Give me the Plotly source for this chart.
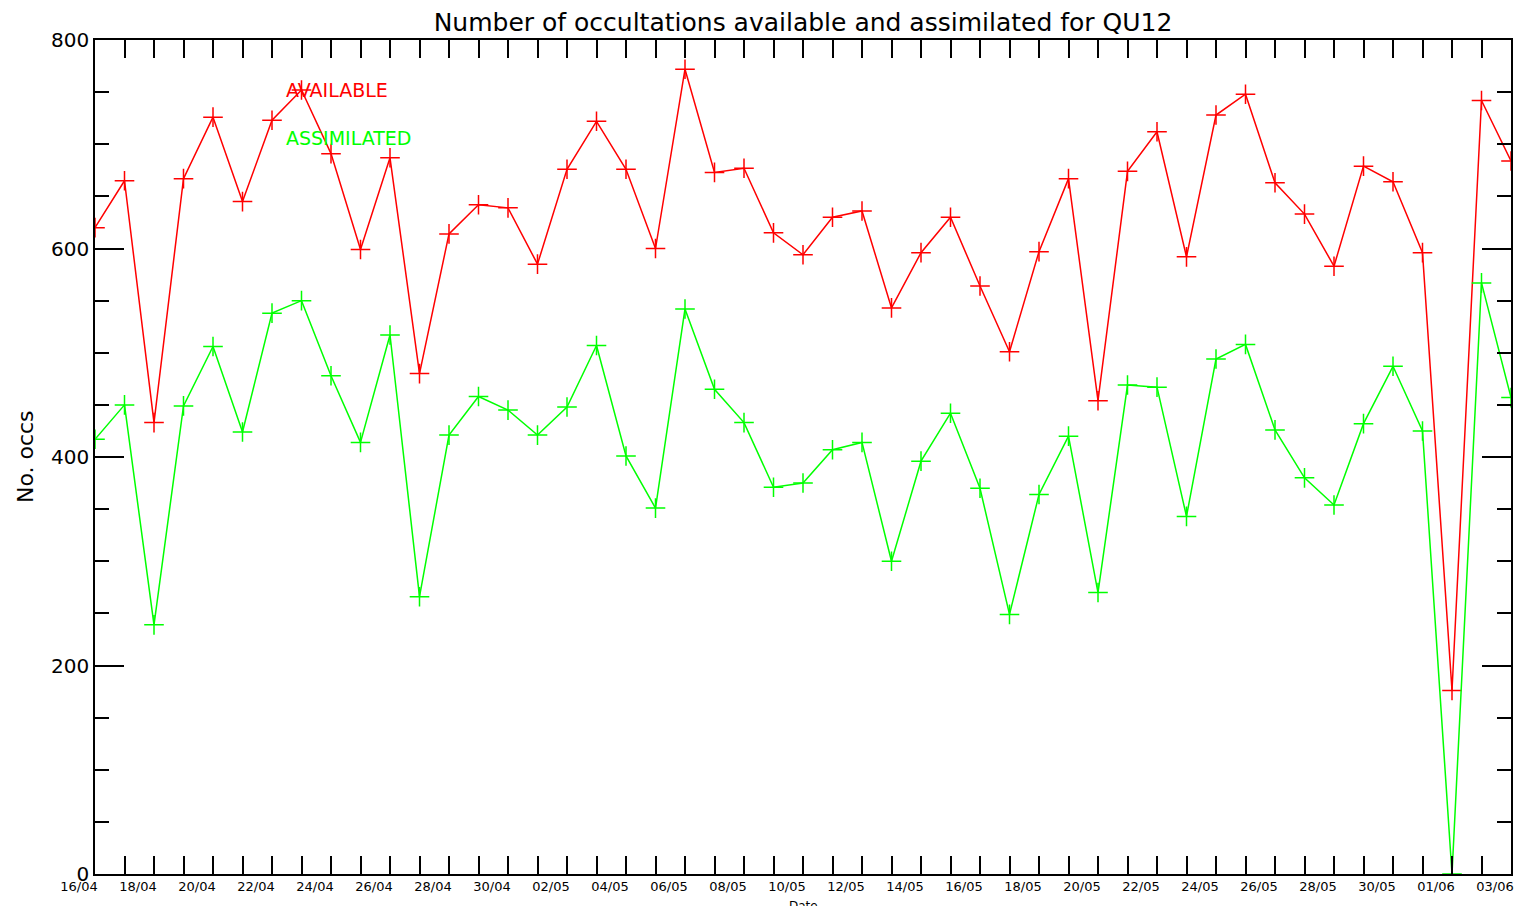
import pandas as pd
import plotly.graph_objects as go

# ---- data ----
dates = [d.strftime("%d/%m") for d in pd.date_range("2008-04-16", "2008-06-03", freq="D")]
available = [620, 665, 433, 667, 726, 645, 723, 752, 691, 599, 687, 480, 614, 642, 639,
             585, 676, 722, 676, 600, 772, 673, 677, 615, 594, 630, 636, 543, 596, 630,
             564, 501, 597, 667, 454, 674, 712, 592, 728, 748, 663, 633, 583, 679, 664,
             596, 176, 742, 684]
assimilated = [417, 450, 239, 449, 506, 424, 538, 550, 478, 414, 517, 266, 421, 458, 445,
               421, 448, 507, 401, 351, 542, 465, 433, 371, 375, 407, 414, 300, 396, 442,
               370, 249, 364, 420, 270, 469, 467, 343, 494, 508, 426, 380, 354, 432, 487,
               425, 0, 567, 457]
series_names = ["AVAILABLE", "ASSIMILATED"]
series_colors = ["#ff0000", "#00ff00"]
y_ticks = [0, 200, 400, 600, 800]

x_idx = list(range(len(dates)))
tick_text = [d if i % 2 == 0 else "" for i, d in enumerate(dates)]

FONT = "DejaVu Sans"

fig = go.Figure()
for name, vals, col in zip(series_names, [available, assimilated], series_colors):
    fig.add_trace(go.Scatter(
        x=x_idx, y=vals, mode="lines+markers", name=name,
        line=dict(color=col, width=1.5),
        marker=dict(symbol="cross-thin", size=14, line=dict(color=col, width=1.5), color=col),
        showlegend=False,
    ))

# in-plot labels
fig.add_annotation(x=6.4, y=752, xref="x", yref="y", text=series_names[0], showarrow=False,
                   xanchor="left", yanchor="middle", font=dict(family=FONT, size=19, color=series_colors[0]))
fig.add_annotation(x=6.4, y=706, xref="x", yref="y", text=series_names[1], showarrow=False,
                   xanchor="left", yanchor="middle", font=dict(family=FONT, size=19, color=series_colors[1]))

# axis titles
fig.add_annotation(x=-0.0494, y=0.5, xref="paper", yref="paper", text="No. occs", showarrow=False,
                   textangle=-90, xanchor="center", yanchor="middle", font=dict(family=FONT, size=22, color="black"))
fig.add_annotation(x=0.5, y=-0.027, xref="paper", yref="paper", text="Date", showarrow=False,
                   xanchor="center", yanchor="top", font=dict(family=FONT, size=12, color="black"))

# the page body adds an 8px offset; the figure is sized to fill the rest of the window
fig.update_layout(
    width=1518, height=898,
    margin=dict(l=87, r=14, t=32, b=23),
    paper_bgcolor="white", plot_bgcolor="white",
    title=dict(text="Number of occultations available and assimilated for QU12",
               x=0.5, xref="paper", xanchor="center", y=1 - 14 / 898, yref="container", yanchor="middle",
               font=dict(family=FONT, size=25, color="black")),
    font=dict(family=FONT, color="black"),
)

fig.update_xaxes(
    range=[0, len(dates) - 1], tickvals=x_idx, ticktext=tick_text,
    ticks="inside", ticklen=18, tickwidth=1.5, tickcolor="black",
    showline=True, linecolor="black", linewidth=1.5, mirror="ticks",
    showgrid=False, zeroline=False, tickangle=0,
    tickfont=dict(family=FONT, size=13, color="black"),
    ticklabelshift=-16,
)
fig.update_yaxes(
    range=[0, 800], tickvals=y_ticks,
    ticks="inside", ticklen=29, tickwidth=1.5, tickcolor="black",
    minor=dict(dtick=50, ticks="inside", ticklen=14, tickwidth=1.5, tickcolor="black", showgrid=False),
    showline=True, linecolor="black", linewidth=1.5, mirror="ticks",
    showgrid=False, zeroline=False,
    tickfont=dict(family=FONT, size=20, color="black"),
)

fig.write_html("out.html")
